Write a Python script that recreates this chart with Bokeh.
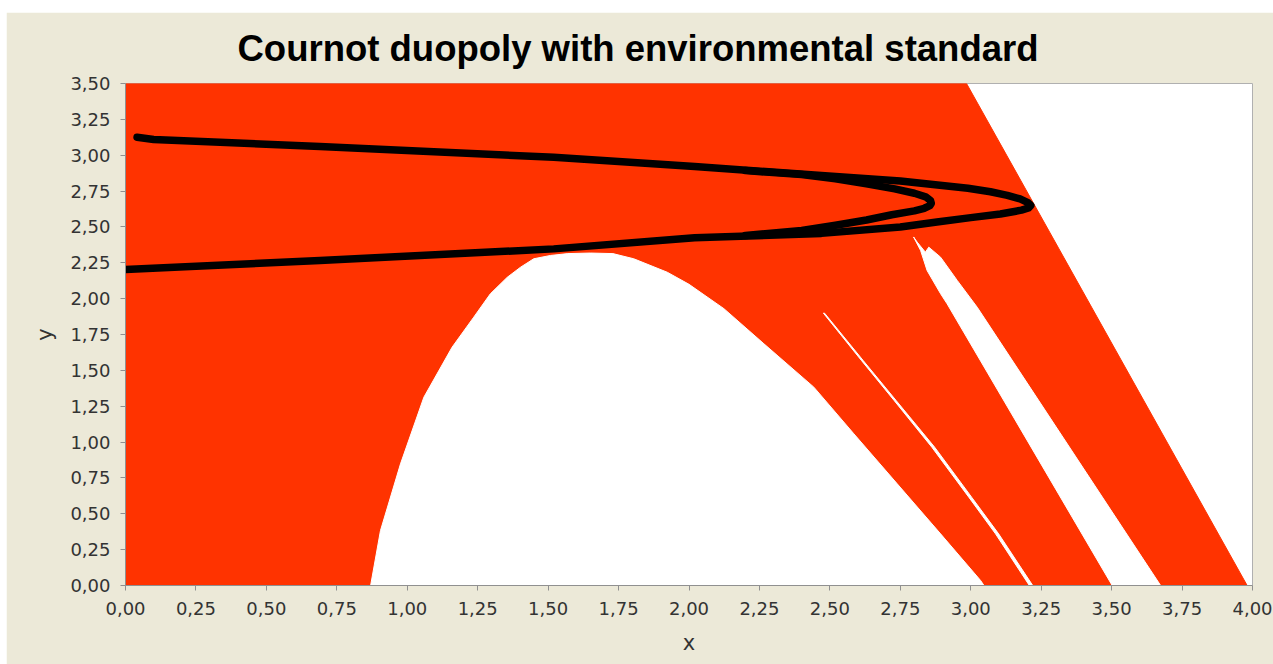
from bokeh.plotting import figure
from bokeh.models import Range1d, FixedTicker, Spacer
from bokeh.layouts import column, row
from bokeh.embed import file_html
from bokeh.resources import INLINE

# ---------------- data ----------------
title_text = "Cournot duopoly with environmental standard"

x_tick_values = [0.0, 0.25, 0.5, 0.75, 1.0, 1.25, 1.5, 1.75, 2.0, 2.25, 2.5,
                 2.75, 3.0, 3.25, 3.5, 3.75, 4.0]
x_tick_labels = ["0,00", "0,25", "0,50", "0,75", "1,00", "1,25", "1,50", "1,75",
                 "2,00", "2,25", "2,50", "2,75", "3,00", "3,25", "3,50", "3,75", "4,00"]
y_tick_values = [0.0, 0.25, 0.5, 0.75, 1.0, 1.25, 1.5, 1.75, 2.0, 2.25, 2.5,
                 2.75, 3.0, 3.25, 3.5]
y_tick_labels = ["0,00", "0,25", "0,50", "0,75", "1,00", "1,25", "1,50", "1,75",
                 "2,00", "2,25", "2,50", "2,75", "3,00", "3,25", "3,50"]

# basin of attraction (red) outer boundary
basin_x = [0.0, 0.0, 2.985, 3.981]
basin_y = [0.0, 3.5, 3.5, 0.0]

# central white region (not in basin)
hole_x = [0.870, 0.905, 0.976, 1.059, 1.159, 1.236, 1.295, 1.355, 1.402, 1.449,
          1.508, 1.57, 1.65, 1.73, 1.804, 1.923, 2.00, 2.124, 2.266,
          2.443, 2.585, 2.739, 2.893, 3.035, 3.047]
hole_y = [0.0, 0.383, 0.848, 1.313, 1.661, 1.871, 2.034, 2.149, 2.219, 2.278,
          2.301, 2.314, 2.318, 2.314, 2.278, 2.184, 2.10, 1.93, 1.685,
          1.383, 1.058, 0.709, 0.360, 0.035, 0.0]

# thin white filament
thin_y = [1.899, 1.569, 1.290, 0.964, 0.616, 0.360, 0.0]
thin_xl = [2.477, 2.612, 2.728, 2.862, 2.993, 3.088, 3.208]
thin_xr = [2.481, 2.618, 2.735, 2.872, 3.003, 3.099, 3.220]

# white strip
strip_x = [2.797, 2.822, 2.845, 2.893, 2.916, 3.502, 3.674, 3.023,
           2.952, 2.893, 2.851, 2.839, 2.81]
strip_y = [2.43, 2.336, 2.196, 2.034, 1.964, 0.0, 0.0, 1.94,
           2.127, 2.289, 2.359, 2.324, 2.394]

# attractor: outer closed invariant curve
outer_x = [0.041, 0.10, 0.69, 1.52, 2.02, 2.47, 2.75, 2.99, 3.07, 3.13, 3.175,
           3.203, 3.213, 3.205, 3.18, 3.14, 3.105, 3.0, 2.88, 2.75, 2.47, 2.02,
           1.52, 0.69, 0.0]
outer_y = [3.125, 3.11, 3.06, 2.986, 2.921, 2.858, 2.82, 2.77, 2.745, 2.72, 2.695,
           2.67, 2.65, 2.632, 2.617, 2.602, 2.59, 2.565, 2.535, 2.50, 2.455, 2.424,
           2.347, 2.266, 2.203]

# attractor: inner loop
inner_x = [2.20, 2.40, 2.52, 2.63, 2.73, 2.80, 2.84, 2.857, 2.86, 2.855, 2.835,
           2.80, 2.72, 2.63, 2.52, 2.40, 2.20]
inner_y = [2.893, 2.865, 2.835, 2.80, 2.765, 2.735, 2.71, 2.685, 2.665, 2.648,
           2.63, 2.612, 2.585, 2.548, 2.512, 2.475, 2.44]

# ---------------- styles ----------------
BEIGE = "#ECE9D8"
RED = "#FF3300"
AXIS_GRAY = "#909090"
TEXT_GRAY = "#333333"

p = figure(width=1267, height=652, output_backend="svg", toolbar_location=None,
           x_range=Range1d(0, 4), y_range=Range1d(0, 3.5),
           min_border_left=119, min_border_right=21,
           min_border_top=71, min_border_bottom=79)
p.border_fill_color = BEIGE
p.background_fill_color = "white"
p.outline_line_color = "#B0B0B0"
p.grid.visible = False

p.title.text = title_text
p.title.align = "left"
p.title.offset = 112
p.title.standoff = 28
p.title.vertical_align = "middle"
p.title.text_font = "Liberation Sans"
p.title.text_font_size = "36.5px"
p.title.text_font_style = "bold"
p.title.text_color = "black"

p.patch(basin_x, basin_y, fill_color=RED, line_color=RED, line_width=1)
p.patch(hole_x, hole_y, fill_color="white", line_color="white", line_width=1)
p.patch(thin_xl + thin_xr[::-1], thin_y + thin_y[::-1], fill_color="white",
        line_color="white", line_width=1)
p.patch(strip_x, strip_y, fill_color="white", line_color="white", line_width=1)

p.line(outer_x, outer_y, line_color="black", line_width=7.5,
       line_join="round", line_cap="round")
p.line(inner_x, inner_y, line_color="black", line_width=7.5,
       line_join="round", line_cap="round")

for ax, vals, labs in ((p.xaxis[0], x_tick_values, x_tick_labels),
                       (p.yaxis[0], y_tick_values, y_tick_labels)):
    ax.ticker = FixedTicker(ticks=vals, minor_ticks=[])
    ax.major_label_overrides = {v: l for v, l in zip(vals, labs)}
    ax.axis_line_color = AXIS_GRAY
    ax.major_tick_line_color = AXIS_GRAY
    ax.major_tick_out = 5
    ax.major_tick_in = 0
    ax.minor_tick_line_color = None
    ax.major_label_text_font = "DejaVu Sans"
    ax.major_label_text_font_size = "18px"
    ax.major_label_text_color = TEXT_GRAY
    ax.axis_label_text_font = "DejaVu Sans"
    ax.axis_label_text_font_size = "21px"
    ax.axis_label_text_font_style = "normal"
    ax.axis_label_text_color = TEXT_GRAY

p.xaxis.axis_label = "x"
p.yaxis.axis_label = "y"
p.xaxis.major_label_standoff = 11
p.yaxis.major_label_standoff = 10
p.xaxis.axis_label_standoff = 13
p.yaxis.axis_label_standoff = 10

layout = column(Spacer(height=12), row(Spacer(width=6), p))

open("out.html", "w").write(file_html(layout, INLINE))
